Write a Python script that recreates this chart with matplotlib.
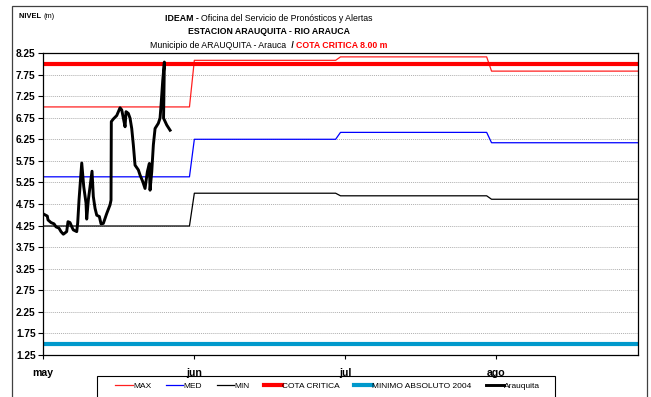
import matplotlib
matplotlib.use("Agg")
import matplotlib.pyplot as plt
from matplotlib import font_manager
from matplotlib.patches import Rectangle

# Eje x en días desde el 1 de mayo; marcas cada 31 días
month_labels = ["may", "jun", "jul", "ago"]
month_ticks = [0, 31, 62, 93]
x_end = 122

# Valores históricos mensuales (m): inicio/fin de cada mes en días
month_start = [0, 31, 61, 92]
month_end = [30, 60, 91, 122]
max_vals = [7.00, 8.08, 8.16, 7.83]
med_vals = [5.38, 6.25, 6.41, 6.17]
min_vals = [4.24, 5.00, 4.94, 4.86]

cota_critica = 8.00
minimo_2004 = 1.50

# Nivel observado en Arauquita
obs_day = [0.00, 0.82, 0.97, 1.58, 2.20, 2.61, 3.22, 3.63, 4.11, 4.46, 4.80,
           5.07, 5.48, 5.89, 6.16, 6.86, 7.06, 7.33, 7.89, 8.30, 8.77, 8.91,
           9.24, 10.00, 10.27, 10.62, 10.97, 11.50, 11.85, 12.32, 13.02, 13.70,
           13.90, 13.96, 14.37, 15.07, 15.75, 16.10, 16.57, 16.78, 16.98, 17.45,
           17.80, 18.15, 18.48, 18.83, 19.51, 19.86, 20.41, 20.88, 21.36, 21.77,
           21.91, 22.26, 22.59, 22.94, 23.61, 23.96, 24.17, 24.52, 24.85, 24.74,
           24.68, 25.34, 26.02]
obs_val = [4.52, 4.47, 4.38, 4.32, 4.29, 4.22, 4.19, 4.11, 4.05, 4.08, 4.11,
           4.34, 4.32, 4.21, 4.15, 4.11, 4.31, 4.84, 5.70, 5.15, 4.77, 4.40,
           4.84, 5.51, 4.92, 4.65, 4.49, 4.46, 4.29, 4.30, 4.53, 4.73,
           4.84, 6.66, 6.72, 6.80, 6.98, 6.93, 6.66, 6.54, 6.89, 6.85,
           6.74, 6.50, 6.12, 5.65, 5.54, 5.42, 5.27, 5.11, 5.50, 5.69,
           5.07, 5.50, 6.12, 6.50, 6.62, 6.74, 7.04, 7.62, 8.04, 7.16,
           6.74, 6.58, 6.46]

y_ticks = [1.25, 1.75, 2.25, 2.75, 3.25, 3.75, 4.25, 4.75, 5.25, 5.75,
           6.25, 6.75, 7.25, 7.75, 8.25]


def monthly_steps(vals):
    xs, ys = [], []
    for a, b, v in zip(month_start, month_end, vals):
        xs += [a, b]
        ys += [v, v]
    return xs, ys


# fuente angosta si existe; si no, Liberation Sans más pequeña
available = {f.name for f in font_manager.fontManager.ttflist}
if "Liberation Sans Narrow" in available:
    NARROW, TSIZE, LSIZE, NSIZE = ["Liberation Sans Narrow", "DejaVu Sans"], 7.6, 7.0, 6.6
else:
    NARROW, TSIZE, LSIZE, NSIZE = ["Liberation Sans", "DejaVu Sans"], 6.3, 6.0, 5.4
plt.rcParams["font.family"] = ["Liberation Sans", "DejaVu Sans"]

fig = plt.figure(figsize=(6.51, 3.97), dpi=100)
ax = fig.add_axes([43.3 / 651, 1 - 355 / 397, (637.7 - 43.3) / 651, (355 - 53) / 397])

ax.plot(*monthly_steps(max_vals), color="#FF2020", lw=0.9, label="MAX")
ax.plot(*monthly_steps(med_vals), color="#0000FF", lw=0.9, label="MED")
ax.plot(*monthly_steps(min_vals), color="#000000", lw=0.9, label="MIN")
ax.plot([0, x_end], [cota_critica, cota_critica], color="#FF0000", lw=3.0, label="COTA CRITICA")
ax.plot([0, x_end], [minimo_2004, minimo_2004], color="#0099CC", lw=3.0, label="MINIMO ABSOLUTO 2004")
ax.plot(obs_day, obs_val, color="black", lw=2.1, solid_joinstyle="round", label="Arauquita")

ax.set_xlim(0, x_end)
ax.set_ylim(1.25, 8.25)
ax.set_yticks(y_ticks)
ax.set_yticklabels([f"{v:.2f}" for v in y_ticks], fontsize=7.3, fontweight="bold")
ax.set_xticks(month_ticks)
ax.set_xticklabels(month_labels, fontsize=7.6, fontweight="bold")
ax.tick_params(axis="y", direction="out", length=3.5, width=0.8, pad=2)
ax.tick_params(axis="x", direction="out", length=3, width=0.8, pad=6)
ax.yaxis.grid(True, linestyle=(0, (1, 1)), color="#B0B0B0", lw=0.7)
ax.set_axisbelow(True)
for s in ax.spines.values():
    s.set_linewidth(0.9)

# marco exterior del gráfico y caja de la leyenda
fig.patches.append(Rectangle((11.5 / 651, -0.1), (646.5 - 11.5) / 651, 1.1 - 6 / 397,
                             transform=fig.transFigure, fill=False, ec="#404040", lw=0.9))
fig.patches.append(Rectangle((97 / 651, -0.05), (555 - 97) / 651, 0.05 + 1 - 375.5 / 397,
                             transform=fig.transFigure, fill=False, ec="black", lw=0.8))

renderer = fig.canvas.get_renderer()


def draw_line(pieces, cx, y, size):
    # pieces: (texto, negrita, color); línea centrada en cx (px)
    widths = []
    for txt, bold, col in pieces:
        t = fig.text(0, 0, txt, fontsize=size, family=NARROW,
                     fontweight="bold" if bold else "normal")
        widths.append(t.get_window_extent(renderer).width)
        t.remove()
    x = cx - sum(widths) / 2
    for (txt, bold, col), w in zip(pieces, widths):
        fig.text(x / 651, 1 - y / 397, txt, fontsize=size, family=NARROW, color=col,
                 fontweight="bold" if bold else "normal", va="center", ha="left")
        x += w


draw_line([("IDEAM - ", True, "black"),
           ("Oficina del Servicio de Pronósticos y Alertas", False, "black")], 268.5, 18.5, TSIZE)
draw_line([("ESTACION ARAUQUITA - RIO ARAUCA", True, "black")], 269.5, 31, TSIZE)
draw_line([("Municipio de ARAUQUITA - Arauca ", False, "black"),
           (" / ", True, "black"),
           ("COTA CRITICA 8.00 m", True, "#FF0000")], 269, 45.5, TSIZE)
draw_line([("NIVEL ", True, "black"), ("(m)", False, "black")], 36.5, 17, NSIZE)

handles, labels = ax.get_legend_handles_labels()
leg = fig.legend(handles, labels, ncol=6, loc="center left", mode="expand",
                 bbox_to_anchor=(115 / 651, 1 - 386 / 397, (540 - 115) / 651, 0),
                 frameon=False, prop={"family": NARROW, "size": LSIZE},
                 handlelength=2.1, handletextpad=0.05, borderpad=0, borderaxespad=0)

fig.savefig("out.png", dpi=100)
